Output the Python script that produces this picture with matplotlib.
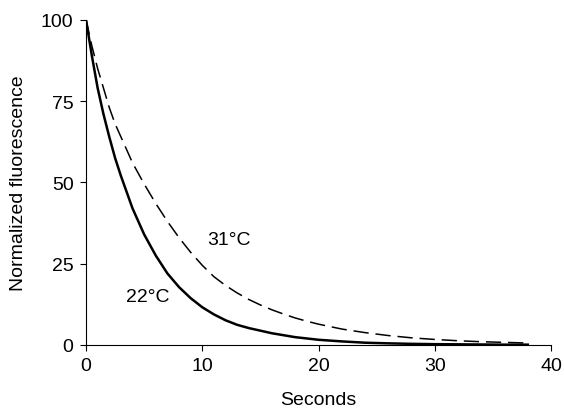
import matplotlib
matplotlib.use("Agg")
import matplotlib.pyplot as plt

plt.rcParams['font.family'] = ['Liberation Sans', 'DejaVu Sans']

# time points (seconds) and normalized fluorescence
seconds = [0, 0.5, 1, 1.5, 2, 2.5, 3, 4, 5, 6, 7, 8, 9, 10, 11, 12, 13, 14, 15, 16,
           17, 18, 19, 20, 22, 24, 26, 28, 30, 32, 34, 36, 38]
fluor_22 = [100, 89, 79, 71, 64, 57.5, 52, 42, 34, 27.5, 22, 17.8, 14.4, 11.6, 9.4,
            7.6, 6.2, 5.2, 4.4, 3.6, 3.0, 2.4, 2.0, 1.6, 1.1, 0.7, 0.5, 0.35, 0.25,
            0.2, 0.15, 0.1, 0.1]
fluor_31 = [100, 92, 85, 79, 73, 68, 64, 56, 49.5, 43.5, 38, 33, 28.5, 24.5, 21,
            18.3, 16, 14, 12.3, 10.8, 9.5, 8.3, 7.3, 6.4, 4.9, 3.8, 2.9, 2.2, 1.7,
            1.3, 1.0, 0.8, 0.6]

x_ticks = [0, 10, 20, 30, 40]
y_ticks = [0, 25, 50, 75, 100]

fig = plt.figure(figsize=(5.64, 4.14), dpi=100)
ax = fig.add_axes([0.1525, 0.1643, 0.8245, 0.7857])

ax.plot(seconds, fluor_22, color="black", lw=1.8)
ax.plot(seconds, fluor_31, color="black", lw=1.1, dashes=(10, 4.5))

ax.text(12.3, 32.5, "31°C", ha="center", va="center", fontsize=14)
ax.text(5.3, 15, "22°C", ha="center", va="center", fontsize=14)

ax.set_xlim(0, 40)
ax.set_ylim(0, 100)
ax.set_xticks(x_ticks)
ax.set_yticks(y_ticks)
ax.tick_params(direction="out", length=4, width=0.8, labelsize=14, pad=5)
for s in ["top", "right"]:
    ax.spines[s].set_visible(False)
ax.spines["left"].set_linewidth(0.8)
ax.spines["bottom"].set_linewidth(0.8)

ax.set_xlabel("Seconds", fontsize=14, labelpad=12)
ax.set_ylabel("Normalized fluorescence", fontsize=14, labelpad=10)

fig.savefig("out.png", dpi=100)
